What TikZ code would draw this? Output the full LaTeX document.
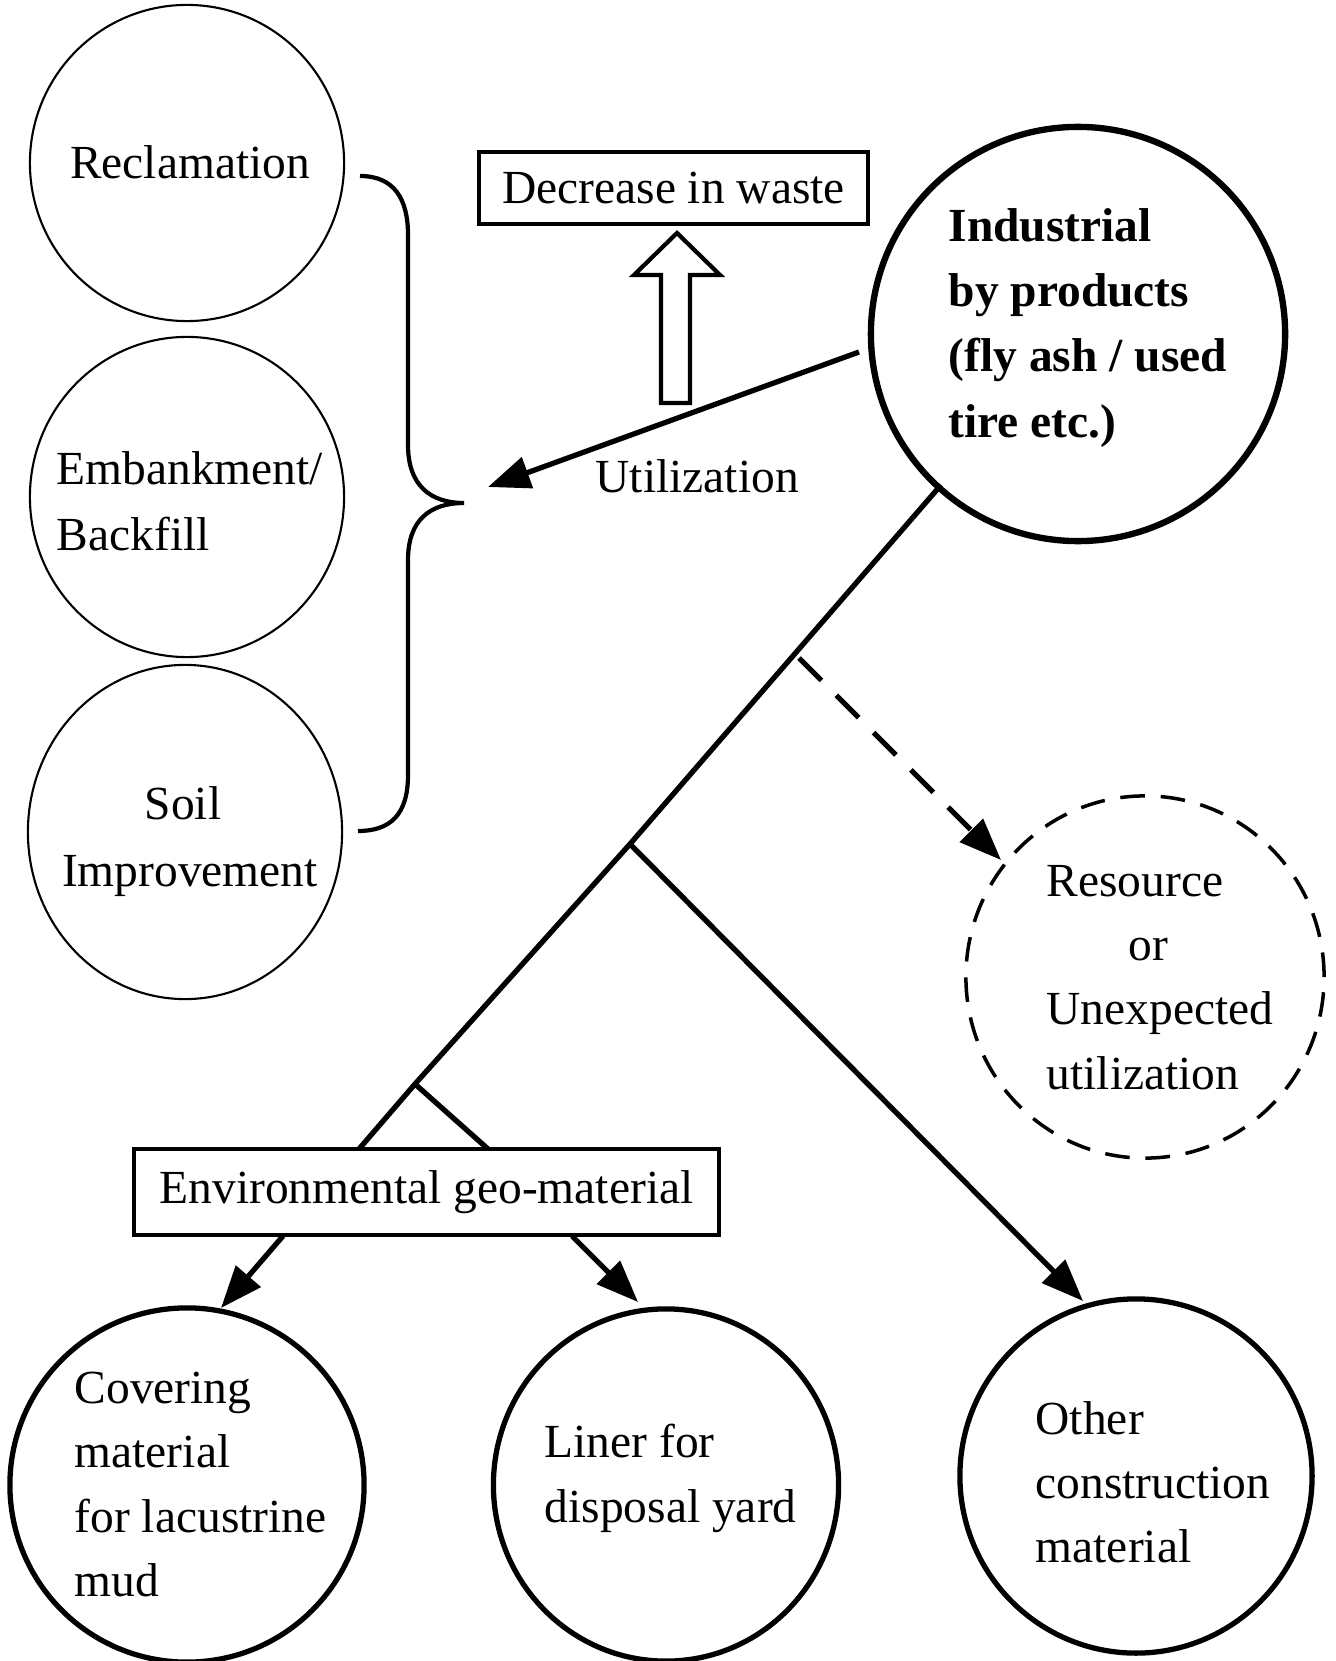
\documentclass[tikz,border=0pt]{standalone}
\usepackage{fontspec}
\setmainfont{Liberation Serif}
\usetikzlibrary{arrows.meta,shapes.geometric}
\begin{document}
\begin{tikzpicture}[x=0.01cm,y=-0.01cm,
  font=\fontsize{13.5}{18}\selectfont,
  thinc/.style={ellipse,draw,line width=0.6pt,inner sep=0pt},
  thickc/.style={ellipse,draw,line width=1.5pt,inner sep=0pt},
  txt/.style={anchor=base west,inner sep=0pt},
  ctxt/.style={anchor=base,inner sep=0pt},
  bold/.style={txt,font=\fontsize{13.5}{18}\selectfont\bfseries},
  conn/.style={line width=1.5pt},
  arr/.style={conn,-{Triangle[length=0.42cm,width=0.32cm]}},
  boxn/.style={draw,line width=1.3pt,inner sep=0pt}]
\useasboundingbox (0,0) rectangle (1335,1661);
% left circles
\node[thinc,minimum width=3.14cm,minimum height=3.16cm] (rec) at (187,163) {};
\node[thinc,minimum width=3.14cm,minimum height=3.20cm] (emb) at (187,497) {};
\node[thinc,minimum width=3.14cm,minimum height=3.34cm] (soil) at (185,832) {};
\node[ctxt] (t-rec) at (190,179) {Reclamation};
\node[txt] (t-emb1) at (56,484) {Embankment/};
\node[txt] (t-emb2) at (56,550) {Backfill};
\node[ctxt] (t-soil1) at (183,819) {Soil};
\node[ctxt] (t-soil2) at (190,886) {Improvement};
% brace
\draw[line width=1.2pt] (360,176) .. controls (395,176) and (408,200) .. (408,235) -- (408,445)
  .. controls (408,485) and (430,503) .. (464,503)
  .. controls (430,503) and (408,520) .. (408,560) -- (408,775)
  .. controls (408,815) and (390,831) .. (358,831);
% decrease box and hollow arrow
\node[boxn,minimum width=3.89cm,minimum height=0.72cm] (dec) at (673.5,188) {Decrease in waste};
\draw[line width=1.2pt] (661,403) -- (661,275) -- (634,275) -- (677,233) -- (720,275) -- (690,275) -- (690,403) -- cycle;
% industrial
\node[ellipse,draw,line width=1.8pt,minimum width=4.14cm,minimum height=4.14cm] (ind) at (1078,334) {};
\node[bold] (t-ind1) at (948,242) {Industrial};
\node[bold] (t-ind2) at (948,307) {by products};
\node[bold] (t-ind3) at (948,372) {(fly ash / used};
\node[bold] (t-ind4) at (948,437) {tire etc.)};
% utilization arrow
\coordinate (u1) at (859,352);
\coordinate (u2) at (488,487);
\draw[arr] (u1) -- (u2);
\node[txt] (t-util) at (595,492) {Utilization};
% resource
\node[ellipse,draw,line width=1pt,dash pattern=on 7pt off 4.5pt,minimum width=3.58cm,minimum height=3.62cm] (res) at (1145,977) {};
\node[txt] (t-res1) at (1046,896) {Resource};
\node[txt] (t-res2) at (1128,960) {or};
\node[txt] (t-res3) at (1046,1024) {Unexpected};
\node[txt] (t-res4) at (1046,1089) {utilization};
% env box
\node[boxn,minimum width=5.85cm,minimum height=0.86cm] (env) at (426.5,1192) {Environmental geo-material};
% bottom circles
\node[thickc,minimum width=3.54cm,minimum height=3.54cm] (cov) at (187,1485) {};
\node[thickc,minimum width=3.45cm,minimum height=3.52cm] (lin) at (666,1485) {};
\node[thickc,minimum width=3.52cm,minimum height=3.54cm] (oth) at (1136,1476) {};
\node[txt] (t-cov1) at (74,1403) {Covering};
\node[txt] (t-cov2) at (74,1467) {material};
\node[txt] (t-cov3) at (74,1532) {for lacustrine};
\node[txt] (t-cov4) at (74,1596) {mud};
\node[txt] (t-lin1) at (544,1457) {Liner for};
\node[txt] (t-lin2) at (544,1522) {disposal yard};
\node[txt] (t-oth1) at (1035,1434) {Other};
\node[txt] (t-oth2) at (1035,1498) {construction};
\node[txt] (t-oth3) at (1035,1562) {material};
% main tree
\coordinate (m0) at (941,485);
\coordinate (j1) at (630,844);
\coordinate (j2) at (415,1084);
\coordinate (e1) at (359,1149);
\coordinate (e2) at (488,1149);
\draw[conn] (m0) -- (j1) -- (j2) -- (e1);
\draw[conn] (j2) -- (e2);
\coordinate (o1) at (1083,1301);
\draw[arr] (j1) -- (o1);
\coordinate (d0) at (799,658);
\coordinate (d1) at (1001,860);
\draw[arr,dash pattern=on 9pt off 6pt] (d0) -- (d1);
\coordinate (b1) at (283,1236);
\coordinate (b2) at (221,1308);
\coordinate (b3) at (572,1236);
\coordinate (b4) at (638,1302);
\draw[arr] (b1) -- (b2);
\draw[arr] (b3) -- (b4);
\end{tikzpicture}
\end{document}
